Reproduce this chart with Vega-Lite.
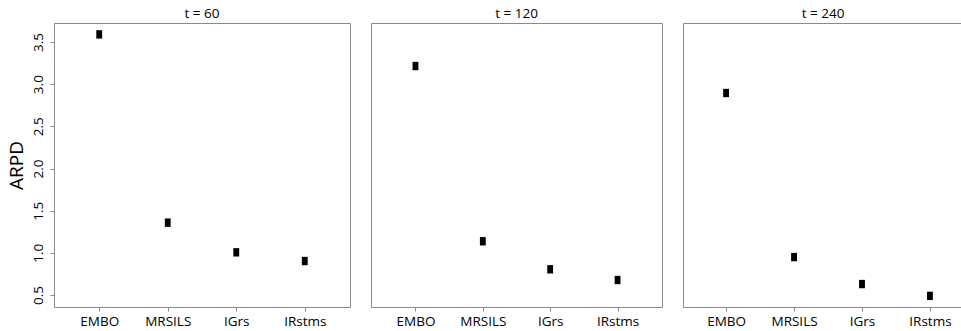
{
  "$schema": "https://vega.github.io/schema/vega-lite/v6.json",
  "background": "white",
  "padding": {"left": 6, "top": 6, "right": 0, "bottom": 0},
  "spacing": 19,
  "data": {"values": [
    {"t": "t = 60", "method": "EMBO", "arpd": 3.59},
    {"t": "t = 60", "method": "MRSILS", "arpd": 1.358},
    {"t": "t = 60", "method": "IGrs", "arpd": 1.006},
    {"t": "t = 60", "method": "IRstms", "arpd": 0.903},
    {"t": "t = 120", "method": "EMBO", "arpd": 3.215},
    {"t": "t = 120", "method": "MRSILS", "arpd": 1.137},
    {"t": "t = 120", "method": "IGrs", "arpd": 0.805},
    {"t": "t = 120", "method": "IRstms", "arpd": 0.678},
    {"t": "t = 240", "method": "EMBO", "arpd": 2.895},
    {"t": "t = 240", "method": "MRSILS", "arpd": 0.95},
    {"t": "t = 240", "method": "IGrs", "arpd": 0.63},
    {"t": "t = 240", "method": "IRstms", "arpd": 0.49}
  ]},
  "config": {
    "font": "Open Sans",
    "view": {"stroke": "#8a8a8a", "strokeWidth": 1},
    "axis": {"domain": false, "grid": false, "tickColor": "#8a8a8a", "tickSize": 4, "labelColor": "black", "labelFontSize": 13.5, "titleColor": "black", "titleFontWeight": "normal"},
    "title": {"fontSize": 13.5, "fontWeight": "normal", "color": "black", "offset": 3, "anchor": "middle"}
  },
  "hconcat": [
    {
      "title": "t = 60",
      "width": 296, "height": 284,
      "transform": [{"filter": "datum.t === 't = 60'"}],
      "mark": {"type": "point", "shape": "M-0.7,-1L0.7,-1L0.7,1L-0.7,1Z", "filled": true, "color": "black", "opacity": 1, "size": 70},
      "encoding": {
        "x": {"field": "method", "type": "nominal", "sort": ["EMBO", "MRSILS", "IGrs", "IRstms"], "scale": {"type": "point", "padding": 0.66}, "axis": {"title": null, "labelAngle": 0, "labelPadding": 3}},
        "y": {"field": "arpd", "type": "quantitative", "scale": {"domain": [0.358, 3.725], "nice": false, "zero": false}, "axis": {"title": "ARPD", "titleFontSize": 19, "titlePadding": 5, "values": [0.5, 1, 1.5, 2, 2.5, 3, 3.5], "format": ".1f", "labelAngle": -90, "labelAlign": "center", "labelBaseline": "bottom", "labelPadding": 5}}
      }
    },
    {
      "title": "t = 120",
      "width": 291, "height": 284,
      "transform": [{"filter": "datum.t === 't = 120'"}],
      "mark": {"type": "point", "shape": "M-0.7,-1L0.7,-1L0.7,1L-0.7,1Z", "filled": true, "color": "black", "opacity": 1, "size": 70},
      "encoding": {
        "x": {"field": "method", "type": "nominal", "sort": ["EMBO", "MRSILS", "IGrs", "IRstms"], "scale": {"type": "point", "padding": 0.66}, "axis": {"title": null, "labelAngle": 0, "labelPadding": 3}},
        "y": {"field": "arpd", "type": "quantitative", "scale": {"domain": [0.358, 3.725], "nice": false, "zero": false}, "axis": null}
      }
    },
    {
      "title": "t = 240",
      "width": 280, "height": 284,
      "view": {"stroke": "#8a8a8a", "strokeDash": [280, 284, 564]},
      "transform": [{"filter": "datum.t === 't = 240'"}],
      "mark": {"type": "point", "shape": "M-0.7,-1L0.7,-1L0.7,1L-0.7,1Z", "filled": true, "color": "black", "opacity": 1, "size": 70},
      "encoding": {
        "x": {"field": "method", "type": "nominal", "sort": ["EMBO", "MRSILS", "IGrs", "IRstms"], "scale": {"type": "point", "padding": 0.56, "align": 0.566}, "axis": {"title": null, "labelAngle": 0, "labelPadding": 3}},
        "y": {"field": "arpd", "type": "quantitative", "scale": {"domain": [0.358, 3.725], "nice": false, "zero": false}, "axis": null}
      }
    }
  ]
}
